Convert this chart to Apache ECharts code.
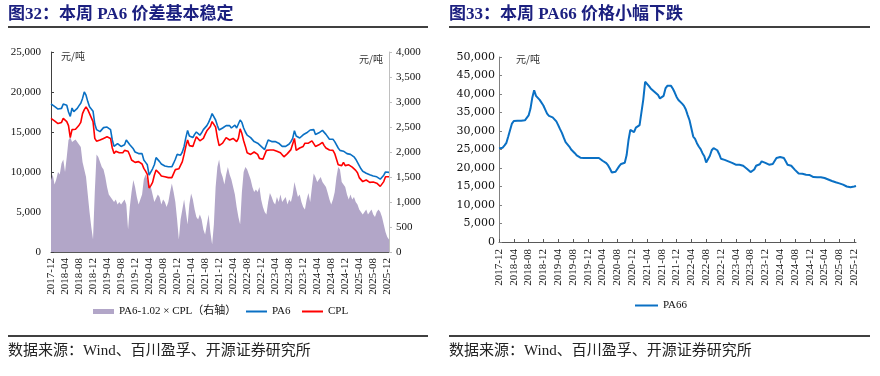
<!DOCTYPE html>
<html>
<head>
<meta charset="utf-8">
<script src="https://cdn.jsdelivr.net/npm/echarts@6/dist/echarts.min.js"></script>
<style>
  html, body { margin: 0; padding: 0; background: #fff; }
  #chart { width: 880px; height: 376px; }
</style>
</head>
<body>
<div id="chart"></div>
<script>
// semi-monthly points, 2017-12 .. 2025-12
const startYear = 2017, startMonth = 12, monthCount = 97;
const tickLabels = ['2017-12','2018-04','2018-08','2018-12','2019-04','2019-08','2019-12','2020-04','2020-08',
  '2020-12','2021-04','2021-08','2021-12','2022-04','2022-08','2022-12','2023-04','2023-08','2023-12',
  '2024-04','2024-08','2024-12','2025-04','2025-08','2025-12'];

// 元/吨
const pa6 = [18500,18400,18200,18000,17870,17900,17950,18500,18700,18350,
  17500,16950,18000,17550,17700,17950,18300,18600,19200,20000,
  19600,18800,18150,17900,17600,16000,15300,15100,15050,15300,
  15550,15600,15620,15500,15300,14000,13200,13400,13550,13300,
  13200,13100,13400,14000,13800,13400,13200,12900,12500,12300,
  12300,12400,12300,11500,11200,10900,9600,9700,10400,10900,
  11800,11700,11300,11000,10850,10750,10700,10650,10550,10650,
  11100,11600,12200,12300,12100,12500,13200,14300,15200,14500,
  14300,14300,14700,15000,14800,14600,14900,15300,15400,15800,
  16200,16700,17300,17400,16500,15800,15250,15250,15500,15300,
  15800,16050,15800,15500,15700,15850,15500,15700,16500,16200,
  15500,15000,14600,14400,14300,14100,13800,13700,13600,13400,
  13200,13100,12800,13400,14000,13900,13800,13900,13800,13700,
  13600,13400,13200,13100,13200,13400,13500,13800,14200,15150,
  14500,14300,14250,14500,14650,14800,14900,15000,15250,15200,
  15300,14700,14800,14900,15000,15200,15300,14700,14500,14100,
  14000,14100,13800,13600,13000,12700,12600,12600,12400,12300,
  12300,12200,12100,11900,11600,11200,10800,10400,10100,9900,
  9850,9800,9650,9550,9500,9450,9400,9300,9100,9200,
  9600,10000,10000,9950];

const cpl = [16700,16600,16400,16200,16050,16150,16200,16700,16800,16300,
  15800,14300,15300,15300,15350,15600,15850,16200,17300,17800,
  18150,17800,17300,16800,16300,14200,13850,13800,14000,14200,
  14200,14350,14400,14300,14200,13000,12300,12600,12700,12400,
  12400,12400,12700,12950,12600,12100,11500,11300,11200,11100,
  11300,11300,11000,10450,10100,9700,8000,8300,8700,9600,
  10250,10100,9800,9500,9450,9400,9400,9300,9200,9300,
  9800,10300,10450,10400,10300,11300,12200,13200,14000,13300,
  13100,13200,13800,14400,14200,13900,14000,14200,14700,15150,
  15300,15700,16300,16300,15600,14300,13300,13200,13600,13700,
  14300,14400,14000,14000,14200,14000,13800,14200,15400,14800,
  13900,13200,12400,12300,12200,12400,12500,12400,12200,11700,
  11500,11600,11700,12700,12800,12750,12700,12750,12700,12600,
  12500,12400,12200,11900,12100,12300,12500,12800,13500,14200,
  12700,12900,13000,12800,13200,13600,13800,13600,13600,13900,
  14000,13200,13300,13400,13600,13700,13300,13000,12900,12750,
  12750,12700,12300,12100,10900,10700,10800,11200,10800,10700,
  10900,10800,10600,10400,10200,9900,9300,9100,8800,8900,
  9000,8800,8700,8800,8750,8700,8600,8500,8200,8300,
  8800,9400,9450,9400];

// PA6-1.02×CPL, right axis
const spread = [1440,1550,1350,1450,1600,1550,1770,1850,1600,1900,
  2240,2300,2200,2170,2250,2200,2220,2100,1800,1650,
  1500,1150,800,500,250,1200,1950,1900,1800,1700,
  1650,1500,1300,1150,1100,1100,1000,1050,950,1000,
  950,1000,1050,950,450,900,1200,1440,1300,1100,
  950,950,1150,1450,1550,1450,1350,1300,1150,1000,
  1040,1150,1100,950,1050,1000,900,1000,1200,1370,
  1200,1000,650,250,650,850,1050,800,550,950,
  1170,1050,850,700,650,750,650,450,350,550,
  750,400,150,550,1300,1700,1850,1600,1500,1350,
  1550,1700,1550,1450,1300,1150,900,700,550,1200,
  1600,1700,1650,1550,1450,1300,1200,1250,1200,1300,
  1050,900,800,750,1000,1180,1100,1000,950,1100,
  1000,1150,1000,1050,1100,950,1050,1000,1150,1400,
  1250,1100,1150,1000,900,850,1050,1180,1000,1300,
  1570,1500,1400,1450,1500,1400,1420,1300,1180,1050,
  950,1050,1200,1500,1700,1650,1400,1400,1300,1150,
  1050,1150,1050,1100,1000,950,850,850,750,800,
  850,750,800,850,750,700,800,850,800,700,
  550,400,300,250];

const pa66 = [25300,25400,25500,26100,26800,28500,28700,32000,32700,32800,
  32800,32800,32800,32800,32900,33300,34200,36000,39000,41000,
  39500,39000,38400,38000,36900,35800,34700,34100,34100,33700,
  33300,32600,31600,30500,29500,28200,27000,26500,25800,25000,
  24500,24000,23400,22900,22800,22700,22700,22700,22700,22700,
  22700,22700,22700,22700,22700,22500,21950,21800,21300,20700,
  19800,18800,18800,19000,19500,20500,21100,21300,21400,23500,
  27500,30300,29800,29700,30900,31200,31600,32100,38500,43300,
  43800,42200,41500,41100,40600,40200,39700,38800,38600,39500,
  41500,42200,42300,42200,41400,40400,39200,38400,37900,37400,
  36800,35800,34300,32900,32500,28500,27900,26700,25800,25100,
  24000,23200,21500,21500,23300,24800,25400,25300,24800,23800,
  22500,22300,22200,22000,21800,21600,21400,21100,20900,20900,
  20900,20700,20600,20200,19800,19300,18900,18800,19600,20600,
  20700,21000,21800,21800,21400,21000,20900,20900,21100,21300,
  22700,22900,22950,22900,22700,21800,20900,20800,20600,20200,
  19500,19000,18500,18450,18450,18300,18200,18200,18100,17800,
  17550,17500,17500,17500,17500,17480,17300,17000,16900,16700,
  16500,16300,16150,16000,15850,15700,15500,15200,15000,14900,
  14800,14800,15000,15150];

const dates = [];
for (let k = 0; k < monthCount; k++) {
  const m = (startMonth - 1 + k) % 12 + 1;
  const y = startYear + Math.floor((startMonth - 1 + k) / 12);
  const ym = y + '-' + (m < 10 ? '0' + m : m);
  dates.push(ym + '-01', ym + '-16');
}

const serif = "'Liberation Serif', 'Noto Sans CJK SC', serif";
const isTick = (idx, val) => val.slice(8) === '01' && tickLabels.indexOf(val.slice(0, 7)) >= 0;
const fmt = v => v.toLocaleString('en-US');
const legendText = { fontFamily: serif, fontSize: 11, color: '#111' };

const xAxisBase = (grid, margin) => ({
  type: 'category',
  gridIndex: grid,
  data: dates,
  boundaryGap: false,
  axisLine: { lineStyle: { color: '#595959', width: 1 } },
  axisTick: { interval: isTick, inside: true, length: 3, lineStyle: { color: '#595959' } },
  axisLabel: {
    interval: isTick, rotate: 90, margin: margin,
    formatter: v => v.slice(0, 7),
    fontFamily: serif, fontSize: 11, color: '#111'
  },
  splitLine: { show: false }
});

const chart = echarts.init(document.getElementById('chart'));
chart.setOption({
  backgroundColor: '#fff',
  animation: false,
  grid: [
    { left: 51, top: 52, width: 338, height: 200, outerBoundsMode: 'none' },
    { left: 499, top: 57, width: 357, height: 185, outerBoundsMode: 'none' }
  ],
  xAxis: [xAxisBase(0, 6), xAxisBase(1, 7)],
  yAxis: [
    {
      type: 'value', gridIndex: 0, min: 0, max: 25000, interval: 5000,
      axisLine: { show: true, lineStyle: { color: '#404040' } },
      axisTick: { show: true, inside: true, length: 3, lineStyle: { color: '#404040' } },
      axisLabel: { formatter: fmt, margin: 10, fontFamily: serif, fontSize: 11, color: '#111' },
      splitLine: { show: false }
    },
    {
      type: 'value', gridIndex: 0, position: 'right', min: 0, max: 4000, interval: 500,
      axisLine: { show: true, lineStyle: { color: '#bfbfbf' } },
      axisTick: { show: true, length: 3, lineStyle: { color: '#bfbfbf' } },
      axisLabel: { formatter: fmt, margin: 7, fontFamily: serif, fontSize: 11, color: '#111' },
      splitLine: { show: false }
    },
    {
      type: 'value', gridIndex: 1, min: 0, max: 50000, interval: 5000,
      axisLine: { show: true, lineStyle: { color: '#808080' } },
      axisTick: { show: true, inside: true, length: 3, lineStyle: { color: '#808080' } },
      axisLabel: { formatter: fmt, margin: 4, fontFamily: "'DejaVu Serif', serif", fontSize: 11, color: '#111' },
      splitLine: { show: false }
    }
  ],
  legend: [
    { data: [{ name: 'PA6-1.02 × CPL（右轴）', icon: 'rect' }], left: 93, top: 306, padding: 0,
      itemWidth: 21, itemHeight: 5, itemGap: 4, textStyle: legendText },
    { data: [{ name: 'PA6', icon: 'rect' }], left: 246, top: 306, padding: 0,
      itemWidth: 21, itemHeight: 2, textStyle: legendText },
    { data: [{ name: 'CPL', icon: 'rect' }], left: 302, top: 306, padding: 0,
      itemWidth: 21, itemHeight: 2, textStyle: legendText },
    { data: [{ name: 'PA66', icon: 'rect' }], left: 635, top: 300, padding: 0,
      itemWidth: 23, itemHeight: 2, textStyle: legendText }
  ],
  series: [
    {
      name: 'PA6-1.02 × CPL（右轴）', type: 'line', xAxisIndex: 0, yAxisIndex: 1,
      data: spread, symbol: 'none',
      lineStyle: { width: 0 },
      itemStyle: { color: '#b2a6c8' },
      areaStyle: { color: '#b2a6c8', opacity: 1 }
    },
    {
      name: 'PA6', type: 'line', xAxisIndex: 0, yAxisIndex: 0, data: pa6, symbol: 'none',
      itemStyle: { color: '#0a70c4' }, lineStyle: { color: '#0a70c4', width: 1.6 }
    },
    {
      name: 'CPL', type: 'line', xAxisIndex: 0, yAxisIndex: 0, data: cpl, symbol: 'none',
      itemStyle: { color: '#ff0000' }, lineStyle: { color: '#ff0000', width: 1.6 }
    },
    {
      name: 'PA66', type: 'line', xAxisIndex: 1, yAxisIndex: 2, data: pa66, symbol: 'none',
      itemStyle: { color: '#0a70c4' }, lineStyle: { color: '#0a70c4', width: 2 }
    }
  ],
  graphic: [
    { type: 'text', x: 8, y: 15, style: { text: '图32：本周 PA6 价差基本稳定', font: "bold 17px " + serif, fill: '#1c2080', verticalAlign: 'middle' } },
    { type: 'text', x: 449, y: 15, style: { text: '图33：本周 PA66 价格小幅下跌', font: "bold 17px " + serif, fill: '#1c2080', verticalAlign: 'middle' } },
    { type: 'line', shape: { x1: 8, y1: 27, x2: 428, y2: 27 }, style: { stroke: '#000', lineWidth: 1.3 } },
    { type: 'line', shape: { x1: 449, y1: 27, x2: 870, y2: 27 }, style: { stroke: '#000', lineWidth: 1.3 } },
    { type: 'line', shape: { x1: 8, y1: 336, x2: 428, y2: 336 }, style: { stroke: '#000', lineWidth: 1.3 } },
    { type: 'line', shape: { x1: 449, y1: 336, x2: 870, y2: 336 }, style: { stroke: '#000', lineWidth: 1.3 } },
    { type: 'text', x: 8, y: 351, style: { text: '数据来源：Wind、百川盈孚、开源证券研究所', font: "15px " + serif, fill: '#222', verticalAlign: 'middle' } },
    { type: 'text', x: 449, y: 351, style: { text: '数据来源：Wind、百川盈孚、开源证券研究所', font: "15px " + serif, fill: '#222', verticalAlign: 'middle' } },
    { type: 'text', x: 61, y: 56, style: { text: '元/吨', font: "10px 'Noto Sans CJK SC'", fill: '#333', verticalAlign: 'middle' } },
    { type: 'text', x: 359, y: 59, style: { text: '元/吨', font: "10px 'Noto Sans CJK SC'", fill: '#333', verticalAlign: 'middle' } },
    { type: 'text', x: 516, y: 59, style: { text: '元/吨', font: "10px 'Noto Sans CJK SC'", fill: '#333', verticalAlign: 'middle' } }
  ]
});
</script>
</body>
</html>
